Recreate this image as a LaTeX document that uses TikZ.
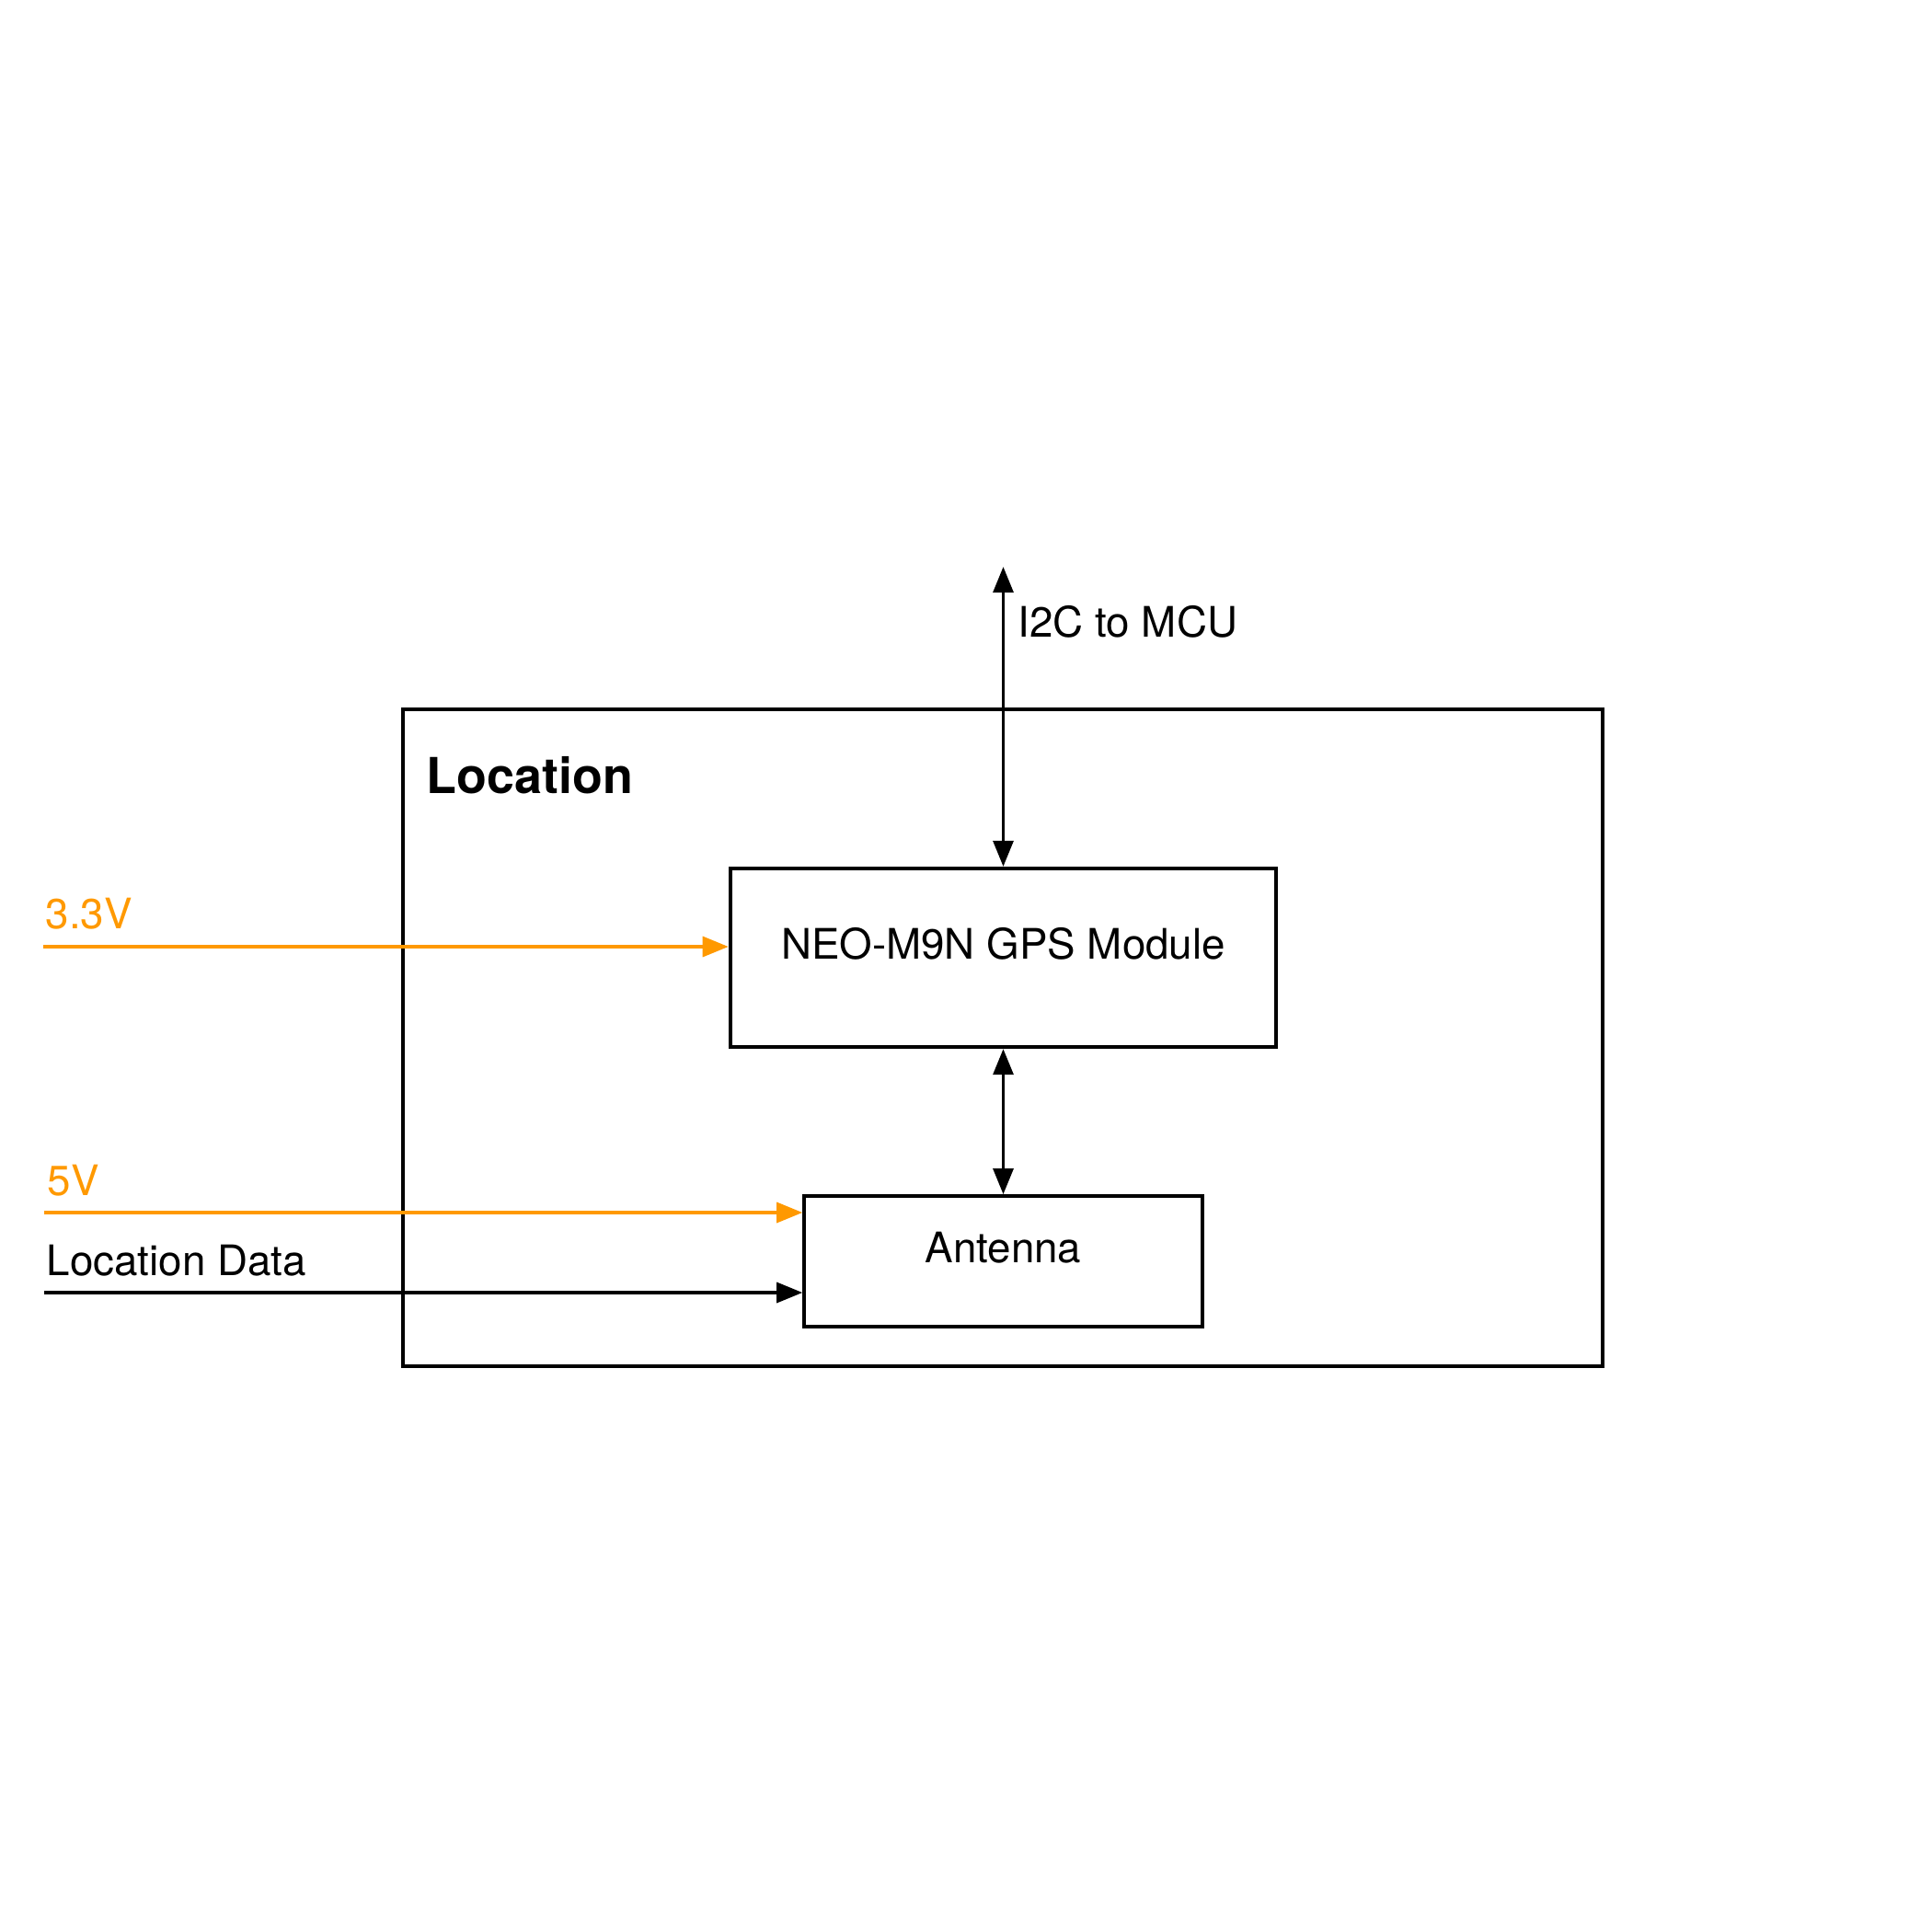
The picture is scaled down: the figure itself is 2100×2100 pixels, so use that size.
\documentclass[tikz,border=0pt]{standalone}
\usepackage{fontspec}
\setmainfont{TeX Gyre Heros}
\usepackage{tikz}
\usetikzlibrary{positioning, arrows.meta}
\definecolor{pwrorange}{RGB}{255,153,0}
\tikzstyle{group} = [rectangle, minimum width=13.04cm, minimum height=7.14cm, draw=black, line width=1.15pt]
\tikzstyle{gpsbox} = [rectangle, minimum width=5.93cm, minimum height=1.94cm, text depth=9pt, draw=black, line width=1.15pt, font=\fontsize{13pt}{15pt}\selectfont]
\tikzstyle{antbox} = [rectangle, minimum width=4.32cm, minimum height=1.42cm, text depth=8.5pt, draw=black, line width=1.15pt, font=\fontsize{13pt}{15pt}\selectfont]
\tikzstyle{sig} = [inner sep=0pt, font=\fontsize{13pt}{15pt}\selectfont]
\tikzstyle{title} = [inner sep=0pt, font=\bfseries\fontsize{15.3pt}{18pt}\selectfont]
\tikzstyle{arrow} = [line width=1.1pt, -{Triangle[length=8pt,width=6.2pt]}]
\tikzstyle{biarrow} = [line width=1.1pt, {Triangle[length=8pt,width=6.2pt]}-{Triangle[length=8pt,width=6.2pt]}]
\tikzstyle{pwr} = [arrow, color=pwrorange]

\begin{document}
\begin{tikzpicture}[x=0.01cm, y=-0.01cm]
\useasboundingbox (0,0) rectangle (2100,2100);

\node (loc) [group] at (1090,1128) {};
\node (loctitle) [title, anchor=base west] at (463,862) {Location};

\node (gps) [gpsbox] at (1090.5,1041) {NEO-M9N GPS Module};
\node (ant) [antbox, below=1.58cm of gps] {Antenna};

\coordinate (mcu) at (1090.5,616);
\draw [biarrow] (mcu) -- (gps.north);
\node (i2c) [sig, anchor=base west] at (1106,692) {I2C to MCU};
\draw [biarrow] (gps.south) -- (ant.north);

\coordinate (in33) at (47,1029);
\coordinate (in5) at (48,1318);
\coordinate (inld) at (48,1405);
\node (v33) [sig, anchor=base west, text=pwrorange] at (49,1009) {3.3V};
\node (v5) [sig, anchor=base west, text=pwrorange] at (51,1299) {5V};
\node (ld) [sig, anchor=base west] at (50,1386) {Location Data};

\draw [pwr] (in33) -- (in33 -| gps.west);
\draw [pwr] (in5) -- (in5 -| ant.west);
\draw [arrow] (inld) -- (inld -| ant.west);

\end{tikzpicture}
\end{document}
